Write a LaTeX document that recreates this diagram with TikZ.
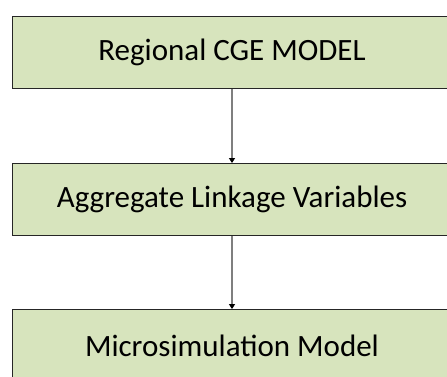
\documentclass[tikz,border=0pt]{standalone}
\usepackage{fontspec}
\setmainfont{Carlito}
\usetikzlibrary{arrows.meta}
\definecolor{boxfill}{HTML}{D7E4BD}
\definecolor{linegray}{HTML}{7F7F7F}
\tikzset{
  flowbox/.style={draw=black!85, line width=0.9pt, fill=boxfill, minimum width=439pt, minimum height=72pt, inner sep=0pt, font=\fontsize{31}{36}\selectfont},
  flowarrow/.style={draw=linegray, line width=1.1pt, -{Triangle[width=6pt,length=5pt,color=black]}}
}
\begin{document}
\begin{tikzpicture}[x=1pt,y=-1pt]
\useasboundingbox (0,0) rectangle (447,376);
\begin{scope}
\clip (0,0) rectangle (447,376);
\node[flowbox] (cge) at (232,52.5) {Regional CGE MODEL};
\node[flowbox] (agg) at (232,199.5) {Aggregate Linkage Variables};
\node[flowbox] (micro) at (232,345.5) {Microsimulation Model};
\draw[flowarrow] (cge.south) -- (agg.north);
\draw[flowarrow] (agg.south) -- (micro.north);
\end{scope}
\end{tikzpicture}
\end{document}
